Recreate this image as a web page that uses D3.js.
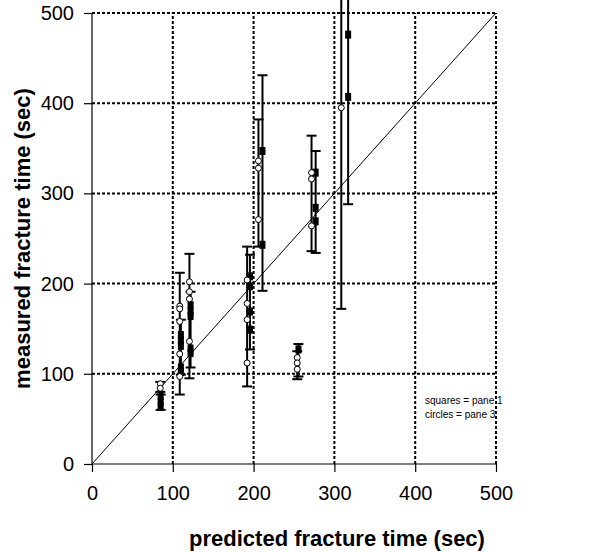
<!DOCTYPE html>
<html><head><meta charset="utf-8">
<script src="https://cdn.jsdelivr.net/npm/d3@7"></script>
<style>body{margin:0;background:#fff}svg{display:block}</style>
</head><body>
<svg id="c" width="595" height="552"></svg>
<script>
const ticks = [0,100,200,300,400,500];
const xTitle = "predicted fracture time (sec)";
const yTitle = "measured fracture time (sec)";
const legendLines = ["squares = pane 1","circles = pane 3"];

// pane 1 (squares)
const squaresPredicted = [85,85,85, 110,110,110,110,110, 122,122,122,122,122, 195.5,195.5,195.5,195.5, 211,211, 255.5, 276.8,276.8,276.8, 317,317];
const squaresMeasured  = [75,69,64, 143,137,131,107,102, 176,169,164,128,123, 208,197,169,149, 347,243, 127, 323,284,269, 476,407];
// pane 3 (circles)
const circlesPredicted = [84.5,84.5, 108.6,108.6,108.6,108.6,108.6, 120.6,120.6,120.6,120.6, 192,192,192,192, 206,206,206, 254,254,254, 271.7,271.7,271.7, 308.5];
const circlesMeasured  = [89,84, 175,172,158,122,97, 202,191,183,136, 204,178,160,112, 336,328,271, 118,112,105, 323,316,264, 395];
// error bars
const barSeries    = ["c","c","c","c","c","c","c","c", "s","s","s","s","s","s","s","s"];
const barPredicted = [84.5,108.6,120.6,192,206,254,271.7,308.5, 85,110,122,195.5,211,255.5,276.8,317];
const barLow       = [80,77,95,86,241,94,236,172, 60,99,107,127,192,97,234,288];
const barHigh      = [91,212,233,241,382,125,364,600, 77,160,191,232,431,133,347,600];

const W=595,H=552, m={l:92,r:99,t:13,b:88};
const svg=d3.select("#c");
const x=d3.scaleLinear().domain([0,500]).range([m.l,W-m.r]);
const y=d3.scaleLinear().domain([0,500]).range([H-m.b,m.t]);
const font="Liberation Sans, Arial, sans-serif";

// grid
const g=svg.append("g");
g.selectAll(".gx").data(ticks.slice(1)).join("line")
 .attr("x1",d=>x(d)).attr("x2",d=>x(d)).attr("y1",y(0)).attr("y2",y(500))
 .attr("stroke","#000").attr("stroke-width",2).attr("stroke-dasharray","3,2");
g.selectAll(".gy").data(ticks.slice(1)).join("line")
 .attr("y1",d=>y(d)).attr("y2",d=>y(d)).attr("x1",x(0)).attr("x2",x(500))
 .attr("stroke","#000").attr("stroke-width",2).attr("stroke-dasharray","3,2");

// axes
const xa=d3.axisBottom(x).tickValues(ticks).tickSize(8).tickPadding(14).tickFormat(d3.format("d"));
const ya=d3.axisLeft(y).tickValues(ticks).tickSize(8).tickPadding(10).tickFormat(d3.format("d"));
const gx=svg.append("g").attr("transform",`translate(0,${y(0)})`).call(xa);
const gy=svg.append("g").attr("transform",`translate(${x(0)},0)`).call(ya);
[gx,gy].forEach(a=>{
  a.select(".domain").remove();
  a.selectAll("line").attr("stroke","#000").attr("stroke-width",1.2);
  a.selectAll("text").attr("font-family",font).attr("font-size",20).attr("fill","#000");
});
svg.append("line").attr("x1",x(0)).attr("x2",x(500)).attr("y1",y(0)).attr("y2",y(0)).attr("stroke","#000").attr("stroke-width",1.2);
svg.append("line").attr("x1",x(0)).attr("x2",x(0)).attr("y1",y(0)).attr("y2",y(500)).attr("stroke","#000").attr("stroke-width",1.2);

// diagonal
svg.append("line").attr("x1",x(0)).attr("y1",y(0)).attr("x2",x(500)).attr("y2",y(500)).attr("stroke","#000").attr("stroke-width",1);

// error bars
const bars=barPredicted.map((p,i)=>({p,lo:barLow[i],hi:barHigh[i],s:barSeries[i]}));
const eb=svg.append("g").attr("stroke","#000").attr("stroke-width",2);
bars.forEach(b=>{
  eb.append("line").attr("x1",x(b.p)).attr("x2",x(b.p)).attr("y1",y(b.lo)).attr("y2",y(b.hi));
  [b.lo,b.hi].forEach(v=>{ if(v<=500) eb.append("line").attr("x1",x(b.p)-5).attr("x2",x(b.p)+5).attr("y1",y(v)).attr("y2",y(v)); });
});

// squares
svg.append("g").selectAll("rect").data(squaresPredicted.map((p,i)=>[p,squaresMeasured[i]])).join("rect")
 .attr("x",d=>x(d[0])-3).attr("y",d=>y(d[1])-4).attr("width",6).attr("height",8).attr("fill","#000");
// circles
svg.append("g").selectAll("circle").data(circlesPredicted.map((p,i)=>[p,circlesMeasured[i]])).join("circle")
 .attr("cx",d=>x(d[0])).attr("cy",d=>y(d[1])).attr("r",3).attr("fill","#fff").attr("stroke","#000").attr("stroke-width",1);

// legend text
svg.append("g").selectAll("text").data(legendLines).join("text")
 .attr("x",425).attr("y",(d,i)=>404+i*14).attr("font-family",font).attr("font-size",10).text(d=>d);

// titles
svg.append("text").attr("x",337).attr("y",546).attr("text-anchor","middle")
 .attr("font-family",font).attr("font-weight","bold").attr("font-size",22).text(xTitle);
svg.append("text").attr("transform",`translate(30,${(y(0)+y(500))/2}) rotate(-90)`).attr("text-anchor","middle")
 .attr("font-family",font).attr("font-weight","bold").attr("font-size",22).text(yTitle);
</script>
</body></html>
